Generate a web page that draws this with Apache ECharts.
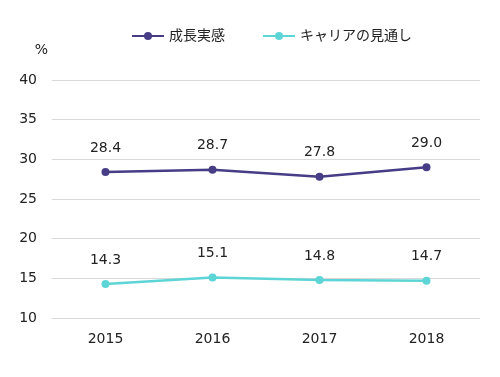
<!DOCTYPE html>
<html>
<head>
<meta charset="utf-8">
<script src="https://cdn.jsdelivr.net/npm/echarts@6/dist/echarts.min.js"></script>
<style>
    html, body { margin: 0; padding: 0; background: #fff; }
    #container { width: 500px; height: 377px; }
</style>
</head>
<body>
<div id="container"></div>
<script type="text/javascript">
    var years = ['2015', '2016', '2017', '2018'];
    var growth = [28.4, 28.7, 27.8, 29.0];
    var career = [14.3, 15.1, 14.8, 14.7];
    var seriesNames = ['成長実感', 'キャリアの見通し'];

    var fontFamily = 'DejaVu Sans, Noto Sans CJK JP, sans-serif';
    var myChart = echarts.init(document.getElementById('container'));

    var labelOption = {
        show: true,
        position: 'top',
        distance: 13,
        color: '#222',
        fontSize: 14,
        fontFamily: fontFamily,
        formatter: function (p) { return p.value.toFixed(1); }
    };

    var option = {
        animation: false,
        color: ['#463d86', '#5dd5d6'],
        textStyle: {fontFamily: fontFamily},
        legend: {
            top: 24,
            left: 126,
            itemWidth: 32,
            itemHeight: 10,
            itemGap: 37,
            textStyle: {fontSize: 14, color: '#222', fontFamily: fontFamily},
            data: seriesNames
        },
        grid: {left: 52, right: 20, top: 80, bottom: 59},
        xAxis: {
            type: 'category',
            data: years,
            axisLine: {show: false},
            axisTick: {show: false},
            axisLabel: {fontSize: 14, color: '#222', margin: 14}
        },
        yAxis: {
            type: 'value',
            min: 10,
            max: 40,
            interval: 5,
            name: '%',
            nameLocation: 'end',
            nameGap: 23,
            nameTextStyle: {fontSize: 14, color: '#222', align: 'right', padding: [0, 4, 0, 0]},
            axisLine: {show: false},
            axisTick: {show: false},
            axisLabel: {fontSize: 14, color: '#222', margin: 15},
            splitLine: {lineStyle: {color: '#d9d9d9', width: 1}}
        },
        series: [
            {
                name: seriesNames[0],
                type: 'line',
                data: growth,
                symbol: 'circle',
                symbolSize: 8,
                lineStyle: {width: 2.5},
                label: labelOption
            },
            {
                name: seriesNames[1],
                type: 'line',
                data: career,
                symbol: 'circle',
                symbolSize: 8,
                lineStyle: {width: 2.5},
                label: labelOption
            }
        ]
    };
    myChart.setOption(option);
</script>
</body>
</html>
